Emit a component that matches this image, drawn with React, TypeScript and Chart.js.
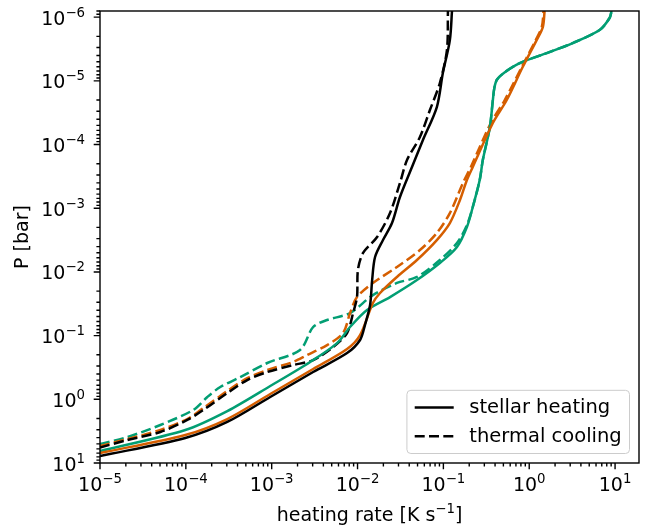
import React, { useEffect, useRef } from 'react';
import { Chart, registerables } from 'chart.js';

Chart.register(...registerables);

// ---- axis ranges & tick labels ----
const X_MIN = 1e-5;
const X_MAX = 19;
const Y_MIN = 8e-7;
const Y_MAX = 10;
const X_TICK_EXPONENTS = [-5, -4, -3, -2, -1, 0, 1];
const Y_TICK_EXPONENTS = [-6, -5, -4, -3, -2, -1, 0, 1];
const X_TITLE_MAIN = 'heating rate [K s';
const X_TITLE_SUP = '−1';
const X_TITLE_END = ']';
const Y_TITLE = 'P [bar]';
const LEGEND_LABELS = ['stellar heating', 'thermal cooling'];

// ---- series: heating rate [K/s] vs pressure [bar] ----
const blackHeatRate = [1e-5, 9.86e-5, 3.04e-4, 9.62e-4, 3.04e-3, 7.55e-3, 1.07e-2, 1.22e-2, 1.40e-2, 1.48e-2, 1.60e-2, 1.98e-2, 2.52e-2, 3.12e-2, 4.31e-2, 5.78e-2, 8.39e-2, 9.86e-2, 0.119, 0.126];
const blackHeatP = [7.76, 4.05, 2.27, 0.92, 0.373, 0.188, 0.117, 0.0682, 0.0331, 0.0134, 5.83e-3, 3.16e-3, 1.71e-3, 6.67e-4, 2.25e-4, 8.49e-5, 2.58e-5, 7.55e-6, 2.29e-6, 8.0e-7];

const blackCoolRate = [1e-5, 2.09e-5, 5.05e-5, 1.04e-4, 1.60e-4, 3.04e-4, 5.19e-4, 8.88e-4, 1.78e-3, 3.04e-3, 5.19e-3, 7.55e-3, 8.87e-3, 9.86e-3, 1.01e-2, 1.16e-2, 1.69e-2, 2.39e-2, 3.12e-2, 3.77e-2, 5.33e-2, 6.97e-2, 9.10e-2, 0.110, 0.113];
const blackCoolP = [5.71, 4.35, 3.26, 2.11, 1.47, 0.796, 0.498, 0.373, 0.29, 0.242, 0.151, 0.091, 0.0442, 0.0248, 9.33e-3, 5.04e-3, 2.83e-3, 1.19e-3, 4.02e-4, 1.75e-4, 7.62e-5, 2.87e-5, 1.08e-5, 3.29e-6, 8.0e-7];

const orangeHeatRate = [1e-5, 9.86e-5, 3.04e-4, 9.62e-4, 3.04e-3, 7.55e-3, 1.07e-2, 1.51e-2, 1.83e-2, 2.88e-2, 4.92e-2, 8.39e-2, 0.119, 0.156, 0.188, 0.220, 0.377, 0.547, 0.839, 1.22, 1.44, 1.51];
const orangeHeatP = [6.97, 3.63, 2.04, 0.826, 0.334, 0.162, 0.098, 0.0308, 0.0214, 0.012, 6.5e-3, 3.16e-3, 1.71e-3, 7.43e-4, 3.61e-4, 2.25e-4, 4.59e-5, 2.0e-5, 6.07e-6, 2.29e-6, 1.43e-6, 8.0e-7];

const orangeCoolRate = [1e-5, 2.09e-5, 5.05e-5, 1.04e-4, 1.60e-4, 3.04e-4, 5.19e-4, 8.88e-4, 1.78e-3, 2.59e-3, 4.42e-3, 6.78e-3, 8.18e-3, 9.86e-3, 1.51e-2, 2.88e-2, 5.33e-2, 8.39e-2, 0.119, 0.169, 0.209, 0.357, 0.519, 0.818, 1.19, 1.40, 1.47];
const orangeCoolP = [5.41, 4.2, 3.03, 2.04, 1.37, 0.741, 0.464, 0.347, 0.259, 0.202, 0.141, 0.091, 0.0442, 0.0248, 0.0149, 8.37e-3, 4.53e-3, 2.45e-3, 1.19e-3, 4.02e-4, 2.25e-4, 4.59e-5, 2.0e-5, 6.07e-6, 2.29e-6, 1.43e-6, 8.0e-7];

const tealHeatRate = [1e-5, 9.86e-5, 3.04e-4, 9.62e-4, 2.81e-3, 5.78e-3, 8.18e-3, 1.29e-2, 2.39e-2, 4.92e-2, 9.10e-2, 0.144, 0.188, 0.220, 0.265, 0.288, 0.348, 0.377, 0.392, 0.42, 0.52, 0.776, 1.60, 3.21, 6.61, 8.63, 9.11];
const tealHeatP = [6.49, 3.03, 1.53, 0.618, 0.259, 0.131, 0.0733, 0.0396, 0.0248, 0.0134, 7.24e-3, 4.06e-3, 1.97e-3, 9.57e-4, 3.61e-4, 1.75e-4, 5.31e-5, 2.0e-5, 1.3e-5, 9.6e-6, 7.3e-6, 5.26e-6, 3.66e-6, 2.55e-6, 1.59e-6, 1.03e-6, 8.0e-7];

const tealCoolRate = [1e-5, 2.09e-5, 5.05e-5, 1.22e-4, 1.78e-4, 2.52e-4, 4.31e-4, 8.88e-4, 2.14e-3, 3.04e-3, 4.42e-3, 8.18e-3, 1.51e-2, 2.88e-2, 4.92e-2, 9.10e-2, 0.144, 0.188, 0.220, 0.265, 0.288, 0.348, 0.377, 0.392, 0.42, 0.52, 0.776, 1.60, 3.21, 6.61, 8.63, 9.11];
const tealCoolP = [5.03, 3.91, 2.53, 1.47, 0.92, 0.641, 0.447, 0.269, 0.168, 0.0733, 0.0569, 0.0442, 0.0231, 0.0149, 0.012, 6.5e-3, 3.52e-3, 1.84e-3, 9.57e-4, 3.61e-4, 1.75e-4, 5.31e-5, 2.0e-5, 1.3e-5, 9.6e-6, 7.3e-6, 5.26e-6, 3.66e-6, 2.55e-6, 1.59e-6, 1.03e-6, 8.0e-7];

const BLACK = '#000000';
const ORANGE = '#d55e00';
const TEAL = '#029e73';

const FONT = '"DejaVu Sans", sans-serif';
const FS = 19;
const LEG_FS = 19.5;
const SUP = 0.7;
const LW = 2.5;
const DASH = [10, 4.3];

function pts(xs: number[], ys: number[]) {
  return xs.map((x, i) => ({ x, y: ys[i] }));
}

function drawPow(ctx: CanvasRenderingContext2D, exp: number, x: number, base: number, align: 'center' | 'right') {
  const main = '10';
  const sup = exp < 0 ? '−' + String(-exp) : String(exp);
  ctx.font = `${FS}px ${FONT}`;
  const w1 = ctx.measureText(main).width;
  ctx.font = `${FS * SUP}px ${FONT}`;
  const w2 = ctx.measureText(sup).width;
  const total = w1 + w2;
  const left = align === 'center' ? x - total / 2 : x - total;
  ctx.textAlign = 'left';
  ctx.textBaseline = 'alphabetic';
  ctx.font = `${FS}px ${FONT}`;
  ctx.fillText(main, left, base);
  ctx.font = `${FS * SUP}px ${FONT}`;
  ctx.fillText(sup, left + w1, base - 8);
}

const decor = {
  id: 'decor',
  afterDraw(chart: any) {
    const { ctx, chartArea: a } = chart;
    const xs = chart.scales.x;
    const ys = chart.scales.y;
    ctx.save();
    ctx.fillStyle = '#000';
    ctx.strokeStyle = '#000';
    ctx.lineWidth = 1.4;
    ctx.setLineDash([]);
    // frame
    ctx.strokeRect(a.left, a.top, a.right - a.left, a.bottom - a.top);
    // x ticks
    ctx.beginPath();
    for (const e of X_TICK_EXPONENTS.concat([X_TICK_EXPONENTS[X_TICK_EXPONENTS.length - 1] + 1])) {
      for (let m = 1; m <= 9; m++) {
        const v = m * Math.pow(10, e);
        if (v < X_MIN * 0.999 || v > X_MAX * 1.001) continue;
        const px = xs.getPixelForValue(v);
        const len = m === 1 ? 6.3 : 3.6;
        ctx.moveTo(px, a.bottom);
        ctx.lineTo(px, a.bottom + len);
      }
    }
    // y ticks
    for (const e of [Y_TICK_EXPONENTS[0] - 1].concat(Y_TICK_EXPONENTS)) {
      for (let m = 1; m <= 9; m++) {
        const v = m * Math.pow(10, e);
        if (v < Y_MIN * 0.999 || v > Y_MAX * 1.001) continue;
        const py = ys.getPixelForValue(v);
        const len = m === 1 ? 6.3 : 3.6;
        ctx.moveTo(a.left, py);
        ctx.lineTo(a.left - len, py);
      }
    }
    ctx.stroke();
    // tick labels
    for (const e of X_TICK_EXPONENTS) {
      drawPow(ctx, e, xs.getPixelForValue(Math.pow(10, e)), a.bottom + 28, 'center');
    }
    for (const e of Y_TICK_EXPONENTS) {
      drawPow(ctx, e, a.left - 15, ys.getPixelForValue(Math.pow(10, e)) + 7.5, 'right');
    }
    // x title
    ctx.font = `${FS}px ${FONT}`;
    const t1 = ctx.measureText(X_TITLE_MAIN).width;
    const t3 = ctx.measureText(X_TITLE_END).width;
    ctx.font = `${FS * SUP}px ${FONT}`;
    const t2 = ctx.measureText(X_TITLE_SUP).width;
    const cx = (a.left + a.right) / 2;
    const lx = cx - (t1 + t2 + t3) / 2;
    const tb = 521;
    ctx.textAlign = 'left';
    ctx.font = `${FS}px ${FONT}`;
    ctx.fillText(X_TITLE_MAIN, lx, tb);
    ctx.font = `${FS * SUP}px ${FONT}`;
    ctx.fillText(X_TITLE_SUP, lx + t1, tb - 8);
    ctx.font = `${FS}px ${FONT}`;
    ctx.fillText(X_TITLE_END, lx + t1 + t2, tb);
    // y title
    ctx.save();
    ctx.translate(28, (a.top + a.bottom) / 2);
    ctx.rotate(-Math.PI / 2);
    ctx.textAlign = 'center';
    ctx.fillText(Y_TITLE, 0, 0);
    ctx.restore();
    // legend
    const em = LEG_FS;
    ctx.font = `${LEG_FS}px ${FONT}`;
    const tw = Math.max(...LEGEND_LABELS.map((l) => ctx.measureText(l).width));
    const pad = 0.4 * em, hl = 2 * em, htp = 0.8 * em, ls = 0.5 * em, rh = 0.97 * em;
    const bw = pad + hl + htp + tw + pad;
    const bh = pad * 2 + rh * 2 + ls;
    const bx1 = a.right - 0.5 * FS;
    const by1 = a.bottom - 0.5 * FS;
    const bx0 = bx1 - bw;
    const by0 = by1 - bh;
    ctx.beginPath();
    const r = 4;
    ctx.moveTo(bx0 + r, by0);
    ctx.arcTo(bx1, by0, bx1, by1, r);
    ctx.arcTo(bx1, by1, bx0, by1, r);
    ctx.arcTo(bx0, by1, bx0, by0, r);
    ctx.arcTo(bx0, by0, bx1, by0, r);
    ctx.closePath();
    ctx.fillStyle = 'rgba(255,255,255,0.8)';
    ctx.fill();
    ctx.strokeStyle = '#cccccc';
    ctx.lineWidth = 1;
    ctx.stroke();
    LEGEND_LABELS.forEach((lab, i) => {
      const rowTop = by0 + pad + i * (rh + ls);
      const cy = rowTop + rh / 2;
      ctx.strokeStyle = '#000';
      ctx.lineWidth = LW;
      ctx.setLineDash(i === 0 ? [] : DASH);
      ctx.beginPath();
      ctx.moveTo(bx0 + pad, cy);
      ctx.lineTo(bx0 + pad + hl, cy);
      ctx.stroke();
      ctx.setLineDash([]);
      ctx.fillStyle = '#000';
      ctx.textAlign = 'left';
      ctx.textBaseline = 'alphabetic';
      ctx.fillText(lab, bx0 + pad + hl + htp, rowTop + 0.76 * em);
    });
    ctx.restore();
  },
};

export default function App() {
  const ref = useRef<HTMLCanvasElement | null>(null);
  useEffect(() => {
    if (!ref.current) return;
    const mk = (xs: number[], ys: number[], color: string, dashed: boolean) => ({
      data: pts(xs, ys),
      borderColor: color,
      backgroundColor: color,
      borderWidth: LW,
      borderDash: dashed ? DASH : [],
      pointRadius: 0,
      tension: 0.3,
      fill: false,
    });
    const chart = new Chart(ref.current, {
      type: 'line',
      data: {
        datasets: [
          mk(blackHeatRate, blackHeatP, BLACK, false),
          mk(orangeHeatRate, orangeHeatP, ORANGE, false),
          mk(tealHeatRate, tealHeatP, TEAL, false),
          mk(blackCoolRate, blackCoolP, BLACK, true),
          mk(orangeCoolRate, orangeCoolP, ORANGE, true),
          mk(tealCoolRate, tealCoolP, TEAL, true),
        ] as any,
      },
      options: {
        animation: false,
        responsive: false,
        devicePixelRatio: 1,
        layout: { padding: { left: 0, right: 7, top: 11, bottom: 0 } },
        plugins: { legend: { display: false }, tooltip: { enabled: false } },
        scales: {
          x: {
            type: 'logarithmic',
            min: X_MIN,
            max: X_MAX,
            position: 'bottom',
            grid: { display: false },
            border: { display: false },
            ticks: { display: false },
            afterFit: (s: any) => { s.height = 66; },
          },
          y: {
            type: 'logarithmic',
            reverse: true,
            min: Y_MIN,
            max: Y_MAX,
            position: 'left',
            grid: { display: false },
            border: { display: false },
            ticks: { display: false },
            afterFit: (s: any) => { s.width = 100; },
          },
        },
      } as any,
      plugins: [decor],
    });
    return () => chart.destroy();
  }, []);
  return (
    <div style={{ position: 'absolute', left: 0, top: 0, width: 646, height: 529, background: '#fff' }}>
      <canvas ref={ref} width={646} height={529} style={{ display: 'block' }} />
    </div>
  );
}
